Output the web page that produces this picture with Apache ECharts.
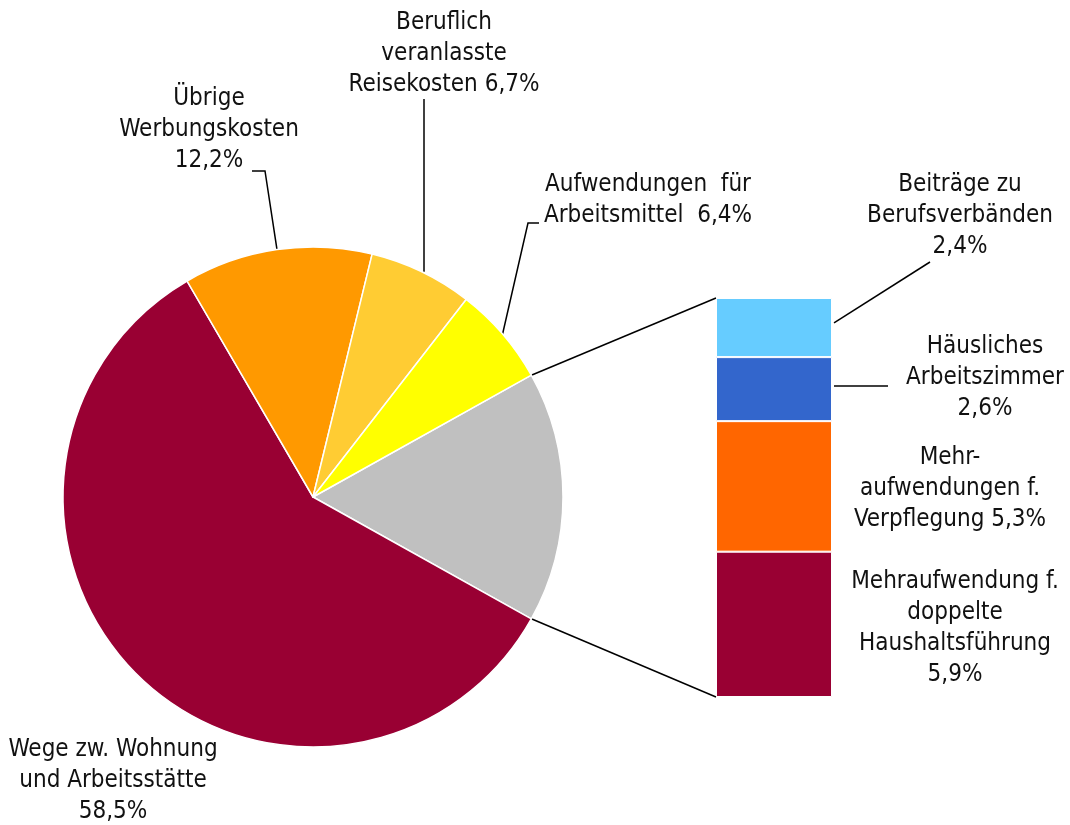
<!DOCTYPE html>
<html>
<head>
<meta charset="utf-8">
<title>Werbungskosten</title>
<script src="https://cdn.jsdelivr.net/npm/echarts@6/dist/echarts.min.js"></script>
<style>
    html, body { margin: 0; padding: 0; background: #fff; }
    #chart { width: 1070px; height: 825px; }
</style>
</head>
<body>
<div id="chart"></div>
<script>
// Kreis: Anteile in %
var pieNames = ['Wege zw. Wohnung und Arbeitsstätte', 'Übrige Werbungskosten',
    'Beruflich veranlasste Reisekosten', 'Aufwendungen für Arbeitsmittel'];
var pieValues = [58.5, 12.2, 6.7, 6.4];
var pieLabels = ['Wege zw. Wohnung\nund Arbeitsstätte\n{v}', 'Übrige\nWerbungskosten\n{v}',
    'Beruflich\nveranlasste\nReisekosten {v}', 'Aufwendungen  für\nArbeitsmittel  {v}'];

// Säule (von unten nach oben), Anteile in %
var barNames = ['Mehraufwendung f. doppelte Haushaltsführung', 'Mehraufwendungen f. Verpflegung',
    'Häusliches Arbeitszimmer', 'Beiträge zu Berufsverbänden'];
var barValues = [5.9, 5.3, 2.6, 2.4];
var barLabels = ['Mehraufwendung f.\ndoppelte\nHaushaltsführung\n{v}', 'Mehr-\naufwendungen f.\nVerpflegung {v}',
    'Häusliches\nArbeitszimmer\n{v}', 'Beiträge zu\nBerufsverbänden\n{v}'];

var pieColors = ['#990033', '#FF9900', '#FFCC33', '#FFFF00'];
var restColor = '#C0C0C0';
var barColors = ['#990033', '#FF6600', '#3366CC', '#66CCFF'];

var FONT = "'DejaVu Sans Condensed', 'Liberation Sans Narrow', sans-serif";
var cx = 313, cy = 497, radius = 250;
var gridBox = {left: 716, top: 298, width: 116, height: 399};

// Beschriftungspositionen (Mitte des Textblocks)
var pieLabelPos = [[113, 781], [209, 130], [444, 54], [648, 200]];
var barLabelPos = [[955, 628], [950, 489], [985, 378], [960, 216]];

function fmt(v) {
    return v.toFixed(1).replace('.', ',') + '%';
}

(function() {
    var myChart = echarts.init(document.getElementById('chart'));

    var barTotal = 0;
    for (var i = 0; i < barValues.length; i++) {
        barTotal += barValues[i];
    }
    var total = barTotal;
    for (var p = 0; p < pieValues.length; p++) {
        total += pieValues[p];
    }

    var pieData = [{
        name: 'Sonstige',
        value: barTotal,
        itemStyle: {color: restColor},
        label: {show: false},
        labelLine: {show: false}
    }];
    for (var j = 0; j < pieValues.length; j++) {
        pieData.push({
            name: pieNames[j],
            value: pieValues[j],
            itemStyle: {color: pieColors[j]},
            label: {formatter: pieLabels[j].replace('{v}', fmt(pieValues[j]))},
            labelLine: {show: j > 0}
        });
    }

    function pieLabelLayout(params) {
        var k = params.dataIndex - 1;
        if (k < 0) {
            return {};
        }
        var pos = pieLabelPos[k];
        var edge = params.labelLinePoints ? params.labelLinePoints[0] : [cx, cy];
        var pts;
        if (k === 1) {
            pts = [edge, [265, 171], [252, 171]];
        } else if (k === 2) {
            pts = [[424, edge[1]], [424, 180], [424, 99]];
        } else if (k === 3) {
            pts = [edge, [528, 223], [539, 223]];
        }
        var res = {x: pos[0], y: pos[1], align: 'center', verticalAlign: 'middle'};
        if (pts) {
            res.labelLinePoints = pts;
        }
        return res;
    }

    function makeBarLayout(k) {
        return function() {
            var pos = barLabelPos[k];
            return {x: pos[0], y: pos[1], align: 'center', verticalAlign: 'middle'};
        };
    }

    var series = [{
        type: 'pie',
        center: [cx, cy],
        radius: radius,
        startAngle: barTotal / total * 180,
        clockwise: true,
        avoidLabelOverlap: false,
        animation: false,
        silent: true,
        data: pieData,
        itemStyle: {borderColor: '#fff', borderWidth: 1.5},
        label: {
            show: true,
            position: 'outside',
            color: '#111',
            fontFamily: FONT,
            fontSize: 24,
            lineHeight: 31
        },
        labelLine: {
            show: true,
            lineStyle: {color: '#000', width: 1.5}
        },
        labelLayout: pieLabelLayout
    }];

    for (var b = 0; b < barValues.length; b++) {
        series.push({
            type: 'bar',
            name: barNames[b],
            stack: 'rest',
            barWidth: '100%',
            animation: false,
            silent: true,
            data: [barValues[b]],
            itemStyle: {color: barColors[b], borderColor: '#fff', borderWidth: 1},
            label: {
                show: true,
                position: 'right',
                formatter: barLabels[b].replace('{v}', fmt(barValues[b])),
                color: '#111',
                fontFamily: FONT,
                fontSize: 24,
                lineHeight: 31
            },
            labelLayout: makeBarLayout(b)
        });
    }

    var option = {
        backgroundColor: '#fff',
        animation: false,
        grid: {
            left: gridBox.left,
            top: gridBox.top,
            width: gridBox.width,
            height: gridBox.height,
            containLabel: false
        },
        xAxis: {type: 'category', data: ['Sonstige'], show: false, boundaryGap: true},
        yAxis: {type: 'value', min: 0, max: barTotal, show: false},
        series: series
    };
    myChart.setOption(option);

    // Verbindungslinien Kreis -> Säule und Führungslinien der Säulenbeschriftung
    var half = barTotal / total * Math.PI;
    var yTop = myChart.convertToPixel({yAxisIndex: 0}, barTotal);
    var yBottom = myChart.convertToPixel({yAxisIndex: 0}, 0);
    var xRight = gridBox.left + gridBox.width + 2;
    var base3 = barValues[0] + barValues[1] + barValues[2];
    var base2 = barValues[0] + barValues[1];
    var yBeitr = myChart.convertToPixel({yAxisIndex: 0}, base3 + barValues[3] * 0.58);
    var yHaus = myChart.convertToPixel({yAxisIndex: 0}, base2 + barValues[2] * 0.55);
    var lineStyle = {stroke: '#000', lineWidth: 1.5};

    function line(x1, y1, x2, y2) {
        return {
            type: 'line',
            silent: true,
            shape: {x1: x1, y1: y1, x2: x2, y2: y2},
            style: lineStyle
        };
    }

    myChart.setOption({
        graphic: [
            line(cx + radius * Math.cos(half), cy - radius * Math.sin(half), gridBox.left, yTop),
            line(cx + radius * Math.cos(half), cy + radius * Math.sin(half), gridBox.left, yBottom),
            line(xRight, yBeitr, 930, 262),
            line(xRight, yHaus, 888, yHaus)
        ]
    });
})();
</script>
</body>
</html>
